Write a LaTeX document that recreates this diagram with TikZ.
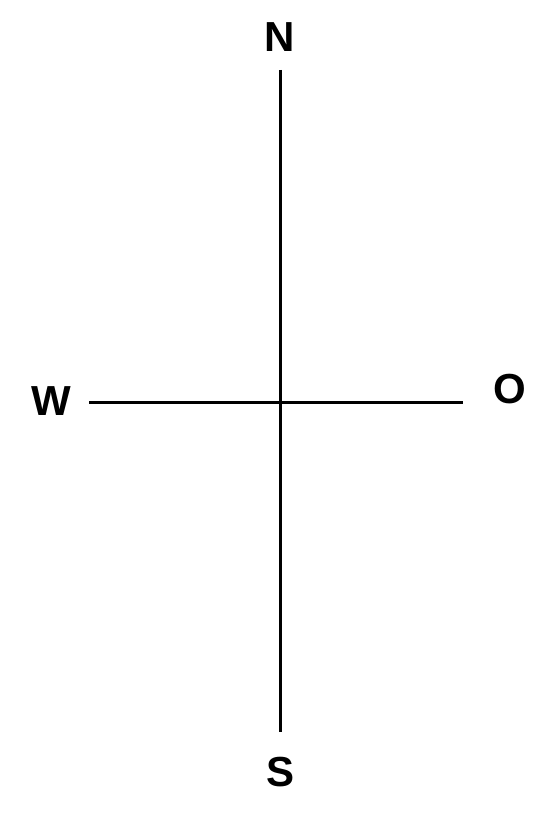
\documentclass[tikz,border=0pt]{standalone}
\usepackage{fontspec}
\setmainfont{Liberation Sans}
\begin{document}
\begin{tikzpicture}[x=1pt,y=-1pt,
  lbl/.style={font=\fontsize{42}{42}\selectfont\bfseries, inner sep=0pt, anchor=center},
  axis/.style={line width=2.2pt, black}]
\useasboundingbox (0,0) rectangle (543,813);
\node[lbl] (N) at (280,37.5) {N};
\node[lbl] (S) at (281,772.5) {S};
\node[lbl] (W) at (51,401.5) {W};
\node[lbl] (O) at (510,389.5) {O};
\coordinate (nt) at (280.5,70);
\coordinate (sb) at (280.5,732);
\coordinate (wl) at (89,402.5);
\coordinate (or) at (463,402.5);
\draw[axis] (nt) -- (sb);
\draw[axis] (wl) -- (or);
\end{tikzpicture}
\end{document}
